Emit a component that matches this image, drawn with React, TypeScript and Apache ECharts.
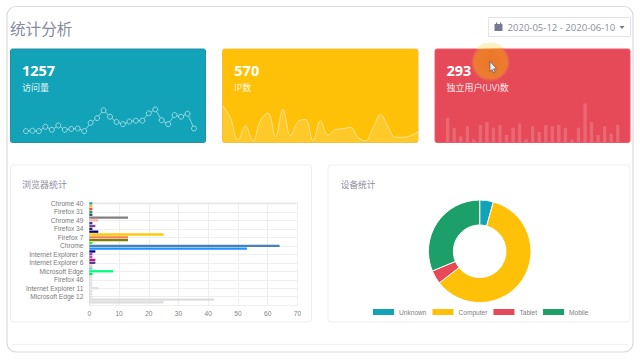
import React, { useEffect, useRef } from "react";
import * as echarts from "echarts";

const days = ["1","2","3","4","5","6","7","8","9","10","11","12","13","14","15","16","17","18","19","20","21","22","23","24","25","26","27"];
const visits = [25,26,25,35,28,38,28,30,31,25,44,55,73,58,46,41,47,49,49,66,75,50,41,62,58,65,31];
const ipCounts = [51,34,3,23,2,31,41,8,46,9,29,32,2,30,10,18,19,21,7,2,20,39,22,7,7,9,15];
const uvCounts = [17,10,4,11,2,12,14,10,12,5,10,13,2,11,7,12,11,12,10,2,10,27,14,5,11,6,12];

const browserLabels = ["Chrome 40","Firefox 31","Chrome 49","Firefox 34","Firefox 7","Chrome","Internet Explorer 8","Internet Explorer 6","Microsoft Edge","Firefox 46","Internet Explorer 11","Microsoft Edge 12"];
const browserValues = [1,1,1,1,1,13,3,1,2,1,3,25,13,13,1,64,53,2,1,1,2,2,1,1,8,1,1,1,1,1,3,1,1,1,42,25];
const browserColors = ["#17a2b8","#ffc107","#e64a58","#1c9f69","#1f4e5f","#808080","#ffb0b0","#303090","#7b3fa8","#191970","#000080","#ffc90e","#f08050","#808000","#32ee32","#4682b4","#1e90ff","#00008b","#9932cc","#a060a0","#c71585","#483d8b","#ffb6c1","#40e0d0","#00ff7f","#00e060","#e0e0e0","#e0e0e0","#e0e0e0","#e0e0e0","#e0e0e0","#e0e0e0","#e0e0e0","#e0e0e0","#dcdcdc","#dcdcdc"];

const deviceNames = ["Unknown","Computer","Tablet","Mobile"];
const deviceValues = [54,756,54,393];
const deviceColors = ["#12a3b8","#ffc107","#e64a58","#1c9f69"];

const statCards = [
  { total: "1257", label: "访问量", x: 22 },
  { total: "570", label: "IP数", x: 234.3 },
  { total: "293", label: "独立用户(UV)数", x: 446.5 },
];

const FONT_CJK = '"Open Sans","Noto Sans CJK SC",sans-serif';
const FONT_LAT = '"Liberation Sans",Arial,sans-serif';
const GREY = "#8a8da0";

export default function App() {
  const ref = useRef<HTMLDivElement>(null);
  useEffect(() => {
    document.body.style.margin = "0";
    document.body.style.background = "#fff";
    const chart = echarts.init(ref.current!, null, { renderer: "svg" });
    const rows = browserLabels.flatMap((n) => [n, "", ""]).concat([""]);
    const everyThird = (i: number) => i % 3 === 0;
    const card = (x: number, w: number, fill: string, stroke: string) => ({
      type: "rect", z: 0, shape: { x, y: 49, width: w, height: 93.5, r: 2 }, style: { fill, stroke, lineWidth: 1 },
    });
    const text = (x: number, y: number, t: string, font: string, fill: string, extra: any = {}) => ({
      type: "text", z: 20, x, y, style: { text: t, font, fill, textVerticalAlign: "middle", ...extra },
    });
    const panel = (x: number, w: number) => ({
      type: "rect", z: 0, shape: { x, y: 165, width: w, height: 157, r: 3 }, style: { fill: "#fff", stroke: "#eeeeee", lineWidth: 1 },
    });
    // the part of the cursor halo that lies above the red card, on the white page
    const haloCap: number[][] = [];
    for (let a = -137; a <= -43; a += 4) {
      haloCap.push([490.5 + 19.3 * Math.cos((a * Math.PI) / 180), 62 + 19.3 * Math.sin((a * Math.PI) / 180)]);
    }
    const graphicEls: any[] = [
      { type: "rect", z: 0, shape: { x: 7, y: 6.5, width: 626, height: 345.5, r: 9 }, style: { fill: "#fff", stroke: "#d9d9e4", lineWidth: 1.2 } },
      { type: "line", z: 0, shape: { x1: 12, y1: 344.4, x2: 628, y2: 344.4 }, style: { stroke: "#f1f1f1", lineWidth: 1 } },
      text(10, 27.5, "统计分析", '400 15.6px "Noto Sans CJK SC",sans-serif', "#878aa0"),
      { type: "rect", z: 0, shape: { x: 488.5, y: 17.5, width: 142, height: 19 }, style: { fill: "#fff", stroke: "#e2e2e8", lineWidth: 1 } },
      { type: "rect", z: 1, shape: { x: 494.5, y: 24, width: 8, height: 7 }, style: { fill: "#767a90" } },
      { type: "rect", z: 1, shape: { x: 496, y: 22.5, width: 1.2, height: 2 }, style: { fill: "#767a90" } },
      { type: "rect", z: 1, shape: { x: 500, y: 22.5, width: 1.2, height: 2 }, style: { fill: "#767a90" } },
      text(507.5, 27.2, "2020-05-12 - 2020-06-10", '400 9.55px "Open Sans",sans-serif', GREY),
      { type: "polygon", z: 1, shape: { points: [[619.5, 26], [624.5, 26], [622, 29]] }, style: { fill: "#767a90" } },
      card(10.5, 195, "#12a3b8", "#2a8e9e"),
      card(222.5, 195.5, "#ffc107", "#f0c040"),
      card(435, 195, "#e64a58", "#e85c68"),
      panel(10.5, 301),
      panel(328, 302),
      text(22, 184, "浏览器统计", '400 9px "Noto Sans CJK SC",sans-serif', "#8e8e9e"),
      text(340.7, 184, "设备统计", '400 8.7px "Noto Sans CJK SC",sans-serif', "#8e8e9e"),
      { type: "rect", z: 1, shape: { x: 89.4, y: 202.6, width: 208, height: 1.6 }, style: { fill: "#e8e8e8" } },
      ...statCards.flatMap((c) => [
        text(c.x, 70.7, c.total, '700 14.5px "Open Sans",sans-serif', "#fff"),
        text(c.x, 87.3, c.label, `400 9px ${FONT_CJK}`, "rgba(255,255,255,0.9)"),
      ]),
      {
        type: "circle", z: 100, shape: { cx: 490.5, cy: 62, r: 19.3 },
        style: {
          fill: {
            type: "radial", x: 0.5, y: 0.5, r: 0.5,
            colorStops: [
              { offset: 0, color: "#e9752a" },
              { offset: 0.7, color: "#ec7d2c" },
              { offset: 0.88, color: "rgba(238,125,55,0.85)" },
              { offset: 1, color: "rgba(232,95,75,0.3)" },
            ],
          },
        },
      },
      { type: "polygon", z: 100, shape: { points: haloCap }, style: { fill: "#fdf6c4", opacity: 0.95 } },
      {
        type: "polygon", z: 101,
        shape: { points: [[490, 61.5], [490, 71.5], [492, 69.5], [493.8, 73], [495.2, 72.2], [493.6, 69], [496.5, 68.5]] },
        style: { fill: "#eeeeee", stroke: "#555a66", lineWidth: 0.7 },
      },
    ];

    const hiddenCat = (gridIndex: number, boundaryGap: boolean) => ({ type: "category", gridIndex, data: days, show: false, boundaryGap });
    const hiddenVal = (gridIndex: number, max: number) => ({ type: "value", gridIndex, min: 0, max, show: false });

    chart.setOption({
      animation: false,
      backgroundColor: "#fff",
      textStyle: { fontFamily: FONT_LAT },
      graphic: { elements: graphicEls },
      grid: [
        { left: 26, width: 168, top: 98.5, height: 43.5 },
        { left: 223, width: 195, top: 99.4, height: 42.9 },
        { left: 444.4, width: 176.6, top: 99.2, height: 42.9 },
        { left: 89.4, width: 208, top: 203.4, height: 101.8 },
      ],
      xAxis: [
        hiddenCat(0, false),
        hiddenCat(1, false),
        hiddenCat(2, true),
        {
          type: "value", gridIndex: 3, min: 0, max: 70, interval: 10,
          axisLine: { show: false }, axisTick: { show: false },
          axisLabel: { fontSize: 6.6, color: "#7f7f7f", margin: 5, fontFamily: FONT_LAT },
          splitLine: { lineStyle: { color: "#eeeeee", width: 1 } },
        },
      ],
      yAxis: [
        hiddenVal(0, 100),
        hiddenVal(1, 60),
        hiddenVal(2, 30),
        {
          type: "category", gridIndex: 3, data: rows, inverse: true, boundaryGap: false,
          axisLine: { show: true, lineStyle: { color: "#dddddd" } }, axisTick: { show: false },
          axisLabel: { interval: everyThird, fontSize: 6.6, color: "#7a7a7a", margin: 6, fontFamily: FONT_LAT },
          splitLine: { show: true, interval: everyThird, lineStyle: { color: "#eeeeee", width: 1 } },
        },
      ],
      legend: {
        data: deviceNames, left: 373, top: 308.5, itemWidth: 21, itemHeight: 6, itemGap: 6, icon: "rect", padding: 0,
        textStyle: { fontSize: 6.6, color: "#7f7f7f", fontFamily: FONT_LAT },
        itemStyle: { borderWidth: 0 },
      },
      series: [
        {
          type: "line", xAxisIndex: 0, yAxisIndex: 0, data: visits, symbol: "circle", symbolSize: 5, showSymbol: true, showAllSymbol: true,
          lineStyle: { color: "rgba(255,255,255,0.5)", width: 1 },
          itemStyle: { color: "#12a3b8", borderColor: "rgba(255,255,255,0.55)", borderWidth: 1 },
        },
        {
          type: "line", xAxisIndex: 1, yAxisIndex: 1, data: ipCounts, smooth: 0.4, symbol: "none",
          lineStyle: { color: "rgba(255,255,255,0.5)", width: 1 },
          areaStyle: { color: "rgba(255,255,255,0.2)" },
        },
        {
          type: "bar", xAxisIndex: 2, yAxisIndex: 2, data: uvCounts, barWidth: 3.3,
          itemStyle: { color: "rgba(255,255,255,0.17)" },
        },
        {
          type: "bar", xAxisIndex: 3, yAxisIndex: 3, barWidth: 2.3,
          data: browserValues.map((value, i) => ({ value, itemStyle: { color: browserColors[i] } })),
        },
        {
          type: "pie", center: [479.7, 251.3], radius: [26.3, 51.3], startAngle: 90, clockwise: true,
          color: deviceColors, label: { show: false }, labelLine: { show: false }, silent: true,
          itemStyle: { borderColor: "#fff", borderWidth: 1 },
          data: deviceNames.map((name, i) => ({ name, value: deviceValues[i] })),
        },
      ],
    });
    return () => chart.dispose();
  }, []);
  return <div ref={ref} style={{ width: 640, height: 360 }} />;
}
